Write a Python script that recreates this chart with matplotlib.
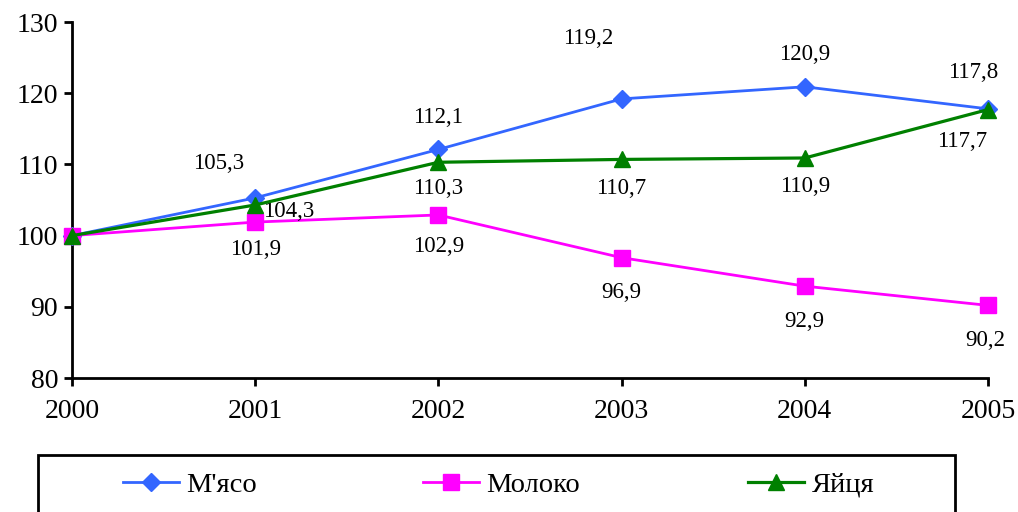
import matplotlib
matplotlib.use("Agg")
import matplotlib.pyplot as plt
from matplotlib.patches import Rectangle

years = [2000, 2001, 2002, 2003, 2004, 2005]
meat = [100, 105.3, 112.1, 119.2, 120.9, 117.8]
milk = [100, 101.9, 102.9, 96.9, 92.9, 90.2]
eggs = [100, 104.3, 110.3, 110.7, 110.9, 117.7]
names = ["М'ясо", "Молоко", "Яйця"]

plt.rcParams['font.family'] = ['Liberation Serif', 'DejaVu Serif']

fig = plt.figure(figsize=(10.18, 5.12), dpi=100)
ax = fig.add_axes([72/1018, 1-378/512, (988-72)/1018, (378-22)/512])

l1, = ax.plot(years, meat, color='#3366FF', lw=2, marker='D', ms=9, label=names[0], clip_on=False, zorder=3)
l2, = ax.plot(years, milk, color='#FF00FF', lw=2, marker='s', ms=11, label=names[1], clip_on=False, zorder=3)
l3, = ax.plot(years, eggs, color='#008000', lw=2.3, marker='^', ms=11, label=names[2], clip_on=False, zorder=4)

ax.set_xlim(2000, 2005)
ax.set_ylim(80, 130)
ax.set_yticks(range(80, 131, 10))
ax.set_xticks(years)
for s in ['top', 'right']:
    ax.spines[s].set_visible(False)
for s in ['left', 'bottom']:
    ax.spines[s].set_linewidth(2)
ax.tick_params(axis='both', direction='out', width=2, length=6, labelsize=20)
ax.tick_params(axis='x', pad=9)
ax.tick_params(axis='y', pad=4)

def fmt(v):
    return f"{v:.1f}".replace('.', ',')

meat_off = [None, (-37, 34), (0, 32), (-33, 60), (0, 32), (-15, 36)]
milk_off = [None, (0, -27), (0, -32), (0, -35), (0, -35), (-3, -35)]
eggs_off = [None, (33, -7), (0, -26), (0, -29), (0, -29), (-26, -32)]
for vals, offs in ((meat, meat_off), (milk, milk_off), (eggs, eggs_off)):
    for x, v, o in zip(years, vals, offs):
        if o is None:
            continue
        ax.annotate(fmt(v), (x, v), xytext=o, textcoords='offset pixels',
                    ha='center', va='center', fontsize=16.5, annotation_clip=False)

fig.patches.append(Rectangle((38/1018, -0.05), (955-38)/1018, (512-455)/512 + 0.05,
                             transform=fig.transFigure, fill=False, ec='black', lw=2))
for line, name, xs in ((l1, names[0], 123), (l2, names[1], 423), (l3, names[2], 748)):
    fig.legend([line], [name], loc='center left', bbox_to_anchor=(xs/1018, 27/512),
               frameon=False, fontsize=20.5, handlelength=1.98, handletextpad=0.25,
               borderaxespad=0, borderpad=0)

fig.savefig('out.png', dpi=100)
